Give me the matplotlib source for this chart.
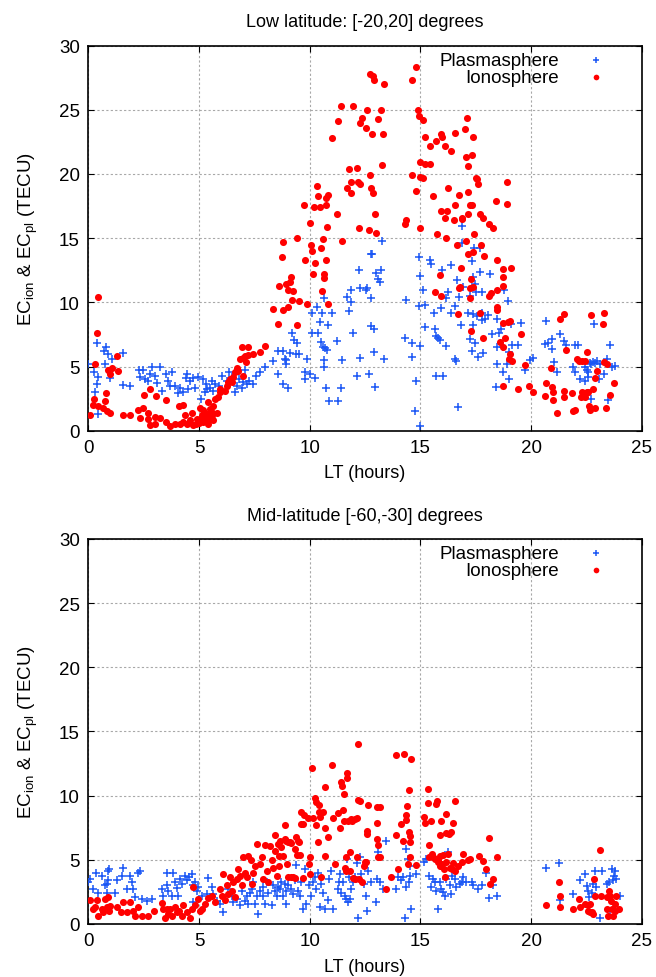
import matplotlib
matplotlib.use("Agg")
import matplotlib.pyplot as plt

plt.rcParams['font.family'] = ['Liberation Sans', 'DejaVu Sans']
plt.rcParams['mathtext.fontset'] = 'custom'
plt.rcParams['mathtext.rm'] = 'Liberation Sans'
plt.rcParams['mathtext.it'] = 'Liberation Sans:italic'

# ---------------- Top panel: Low latitude ----------------
top_title = "Low latitude: [-20,20] degrees"
bot_title = "Mid-latitude [-60,-30] degrees"
xticks = [0, 5, 10, 15, 20, 25]
yticks = [0, 5, 10, 15, 20, 25, 30]

top_ion_lt = [0.42,0.38,0.3,0.8,0.26,0.2,0.45,0.08,0.75,0.68,0.98,0.83,1.28,1.05,0.9,1.35,0.98,1.55,1.88,2.26,2.34,2.5,2.48,2.7,2.79,2.7,2.79,3.0,3.06,3.24,3.0,3.5,3.5,3.69,3.9,4.14,4.1,4.29,4.37,4.6,4.67,4.75,4.9,5.05,5.12,5.2,5.27,5.35,5.42,5.5,5.57,5.65,5.72,5.8,5.87,5.95,5.65,5.42,5.95,6.17,6.25,6.33,6.4,6.48,6.55,6.63,6.7,6.78,6.85,6.93,7.0,7.0,7.12,7.08,7.23,7.23,7.46,7.76,7.98,8.36,8.58,8.61,
    5.0,5.1,5.3,5.45,5.55,5.2,5.6,4.85,4.45,4.3,
    8.8,8.77,8.95,9.1,9.17,9.02,9.25,9.22,9.02,8.8,9.43,9.43,9.5,9.74,9.77,9.9,10.0,10.08,10.1,10.2,10.23,10.15,10.35,10.38,10.45,10.53,10.6,10.63,10.65,10.72,10.72,10.75,10.83,10.8,10.56,10.83,11.0,11.24,11.28,11.43,11.48,11.69,11.78,11.85,11.88,11.96,12.14,12.18,12.26,12.23,12.26,12.38,12.53,12.6,12.68,12.74,12.75,12.86,12.74,12.86,12.89,12.8,12.95,13.0,13.08,13.23,13.28,13.31,13.34,14.29,14.37,14.64,14.64,14.79,14.82,14.89,14.92,14.97,15.0,15.0,15.12,15.12,15.2,15.23,15.42,15.42,15.57,15.72,15.75,15.87,15.95,15.95,15.99,16.1,16.1,15.95,15.65,16.22,16.25,16.17,16.39,16.55,16.52,16.55,16.67,16.7,16.75,16.73,16.78,16.83,16.86,16.89,17.0,17.08,17.1,
    17.39,17.32,17.17,17.52,17.55,17.62,18.9,17.17,17.24,17.32,18.42,18.93,17.17,17.7,17.82,18.12,18.3,17.42,17.06,17.73,17.17,17.39,17.88,18.48,18.72,19.08,18.72,17.27,18.75,17.24,17.39,18.12,18.18,18.48,17.24,18.45,18.48,17.7,18.72,18.95,19.05,19.53,17.29,17.85,18.83,18.6,18.75,19.05,19.02,19.12,19.73,18.75,19.43,19.92,20.08,20.68,20.64,20.93,20.98,20.98,21.19,20.89,21.33,21.49,21.58,21.5,21.5,21.87,21.9,21.99,22.06,22.18,22.29,22.44,22.53,22.26,22.29,22.44,22.53,22.59,22.62,22.65,22.71,22.8,22.89,22.89,22.99,23.3,23.27,23.3,23.42,23.37,23.57,23.77]
top_ion_ec = [10.4,7.6,5.2,2.9,2.5,2.0,1.95,1.2,2.3,1.8,1.4,1.5,5.8,4.9,4.7,4.65,4.4,1.2,1.2,1.6,1.0,2.8,1.8,1.4,3.25,0.9,0.47,1.1,2.7,1.0,0.5,2.4,0.65,0.4,0.5,0.5,1.95,2.0,1.2,0.8,1.4,0.47,0.9,1.8,1.2,0.65,1.4,0.9,2.2,1.7,1.2,1.95,2.5,1.4,2.6,3.0,0.8,0.5,3.25,3.1,3.5,3.8,4.05,3.8,4.2,4.55,4.9,4.65,5.6,6.5,4.3,5.7,5.35,5.85,6.5,5.9,5.97,6.1,6.6,9.5,8.3,11.25,
    0.6,0.9,1.1,1.3,1.5,1.6,0.9,0.55,0.5,0.7,
    14.7,13.5,11.4,11.6,12.0,11.0,10.9,10.2,9.6,9.4,15.0,8.2,10.1,17.6,13.3,9.9,16.2,14.5,14.0,17.4,13.1,12.2,19.1,18.3,17.4,14.2,14.9,12.2,11.9,13.3,17.6,18.1,18.4,15.9,10.9,9.9,22.8,16.9,24.1,25.3,14.8,18.9,20.4,19.4,18.5,25.3,20.5,19.4,19.2,15.8,24.0,24.4,23.6,25.0,15.6,19.9,18.9,18.5,27.8,27.6,27.3,23.1,16.9,15.4,24.3,25.0,20.7,23.1,27.0,16.1,16.4,19.9,27.3,28.3,18.7,25.0,24.5,20.9,19.8,15.8,19.7,24.2,22.9,20.8,20.8,22.2,18.3,22.6,15.3,12.1,23.1,17.1,22.9,22.2,16.6,10.5,10.8,17.1,18.9,15.0,21.8,23.2,16.4,17.6,14.5,9.1,11.1,18.4,11.2,12.7,16.6,16.5,23.5,21.3,24.4,
    22.9,21.5,20.6,19.7,19.6,19.2,19.4,18.6,17.6,17.6,17.9,17.7,16.9,16.9,16.6,16.1,15.8,15.3,14.8,14.5,13.8,13.9,13.6,13.3,12.6,12.7,12.0,11.8,11.3,11.1,11.2,10.5,10.7,11.0,10.3,9.6,9.4,9.2,8.4,8.5,8.55,7.5,7.8,7.25,7.2,6.9,6.5,5.97,5.6,5.45,5.1,3.5,3.25,3.5,3.0,3.7,2.7,3.4,3.05,2.4,1.35,4.9,8.7,9.1,6.3,3.1,2.6,2.95,1.55,1.6,5.6,5.45,5.45,5.45,6.15,2.6,3.0,2.6,3.05,3.0,1.95,1.6,9.0,3.25,1.8,4.1,4.65,9.2,8.3,5.35,5.2,1.8,2.75,3.75]

top_pl_lt = [0.0,0.38,0.71,0.8,0.9,1.05,1.55,0.75,0.26,0.45,0.98,0.3,0.38,0.45,1.58,1.88,2.3,2.48,2.34,2.56,2.79,2.86,2.71,3.01,3.09,3.24,3.31,3.5,3.61,3.69,3.77,3.92,4.14,4.07,4.29,4.41,4.44,4.52,4.6,4.71,4.82,4.97,5.08,5.2,5.27,5.32,5.38,5.5,5.57,5.65,5.72,5.92,6.02,6.25,6.37,6.48,6.63,6.7,6.82,6.93,7.0,7.08,7.15,7.27,7.45,7.57,7.76,7.98,8.36,8.58,8.55,
    8.8,8.87,8.95,8.95,8.8,9.02,9.13,9.22,9.28,9.43,9.37,9.5,9.77,9.77,9.88,10.0,10.1,10.12,10.23,10.35,10.38,10.45,10.56,10.53,10.6,10.68,10.78,10.63,10.63,10.63,10.75,10.83,11.02,10.86,11.28,11.24,11.43,11.48,11.69,11.76,11.85,11.85,11.96,12.14,12.23,12.26,12.26,12.53,12.6,12.75,12.68,12.77,12.83,12.75,12.9,12.89,12.94,13.01,13.09,13.19,13.24,13.28,13.34,14.29,14.34,14.64,14.64,14.82,14.77,14.94,14.94,14.97,14.97,15.0,15.12,15.2,15.2,15.42,15.5,15.62,15.65,15.72,15.8,15.87,15.69,15.95,15.99,16.02,16.14,16.17,16.25,16.39,16.39,16.55,16.58,16.63,16.7,16.67,16.75,16.83,16.89,16.9,16.93,
    17.42,17.7,17.32,17.7,18.15,17.39,17.45,17.52,17.79,17.24,18.78,18.95,17.17,17.39,17.55,17.77,18.06,17.77,17.93,17.39,17.24,17.45,18.24,18.54,18.48,18.66,19.1,19.55,17.32,17.62,17.85,18.45,18.72,19.12,19.42,18.99,18.48,18.9,19.72,19.95,20.08,18.75,19.0,18.42,20.68,20.63,20.93,20.93,20.78,21.33,21.49,21.58,22.0,22.1,21.04,21.19,21.91,22.0,22.21,22.44,22.44,22.53,22.59,22.65,22.71,22.8,22.89,22.99,22.84,22.59,23.09,23.1,23.3,23.42,23.57,23.64,23.8,23.5,22.71]
top_pl_ec = [5.2,6.8,6.2,6.5,6.0,5.6,6.05,5.2,4.55,4.15,4.1,3.05,3.6,1.3,3.55,3.45,4.75,4.7,4.15,4.0,4.4,4.95,3.9,4.3,3.75,4.95,3.1,4.4,3.9,3.5,4.55,3.5,3.35,2.95,3.0,4.1,4.4,3.25,3.9,4.1,3.35,4.15,2.45,4.0,3.0,3.65,3.25,3.35,3.9,3.1,3.65,3.5,4.3,3.9,4.6,4.15,3.0,3.5,4.0,3.35,3.8,4.75,3.65,3.9,3.65,4.3,4.55,4.95,5.45,6.2,4.4,
    6.2,5.6,5.5,5.2,3.6,3.3,6.05,7.65,7.1,6.8,5.95,5.95,4.55,4.0,5.6,4.4,9.2,7.6,4.1,9.6,7.6,8.5,9.2,6.9,6.5,6.45,6.3,5.5,5.0,10.3,3.3,8.2,9.2,2.35,2.35,7.0,3.3,5.5,10.45,9.3,11.0,10.0,7.6,4.25,12.55,11.15,5.7,11.0,11.15,10.35,4.45,13.75,13.8,8.15,7.95,6.1,3.4,12.3,11.85,11.6,12.5,14.75,5.6,7.2,10.15,6.8,5.75,3.9,1.55,13.5,9.75,12.05,0.4,6.6,11.0,9.8,8.1,13.3,12.95,9.2,7.9,7.4,7.2,7.05,4.25,9.55,12.5,4.3,10.35,6.6,10.8,12.9,9.15,9.7,5.6,5.45,1.85,11.75,10.45,8.25,14.6,15.95,11.2,
    14.25,14.2,13.2,12.35,12.2,12.0,11.4,10.8,10.8,10.5,11.0,10.1,9.2,9.1,8.9,9.2,9.0,8.65,8.7,8.2,7.15,6.8,7.55,7.6,8.7,7.9,8.3,8.4,6.2,5.75,6.05,6.5,6.55,6.7,6.7,6.1,5.2,5.2,4.75,5.5,5.7,4.6,4.0,3.4,8.55,6.75,7.15,6.4,6.8,7.55,6.95,6.7,6.7,6.7,5.35,4.6,5.0,4.6,4.0,3.9,5.0,4.75,4.55,5.3,5.2,5.35,5.3,5.45,8.3,4.15,4.0,5.2,4.4,5.6,6.7,5.0,5.05,2.4,2.45]

# ---------------- Bottom panel: Mid-latitude ----------------
bot_ion_lt = [0.08,0.23,0.38,0.3,0.45,0.6,0.68,0.75,0.9,0.83,0.98,0.95,1.28,1.46,1.58,1.88,1.73,2.03,2.11,2.26,2.41,2.71,2.97,3.31,3.36,3.46,3.54,3.61,3.69,3.77,3.92,3.99,4.11,4.22,4.29,4.44,4.59,4.67,4.74,4.82,4.97,5.05,5.12,5.27,5.42,5.57,5.72,5.95,6.02,6.1,6.17,6.25,6.33,6.4,6.48,6.55,6.63,6.7,6.78,6.85,6.93,7.0,7.08,7.15,7.23,7.33,7.38,7.45,7.53,7.61,7.76,7.83,7.88,7.98,8.06,8.13,8.2,8.28,8.36,8.43,8.43,8.51,8.58,8.63,8.63,
    8.64,8.72,8.87,8.87,8.8,8.95,9.02,9.1,9.17,8.98,9.02,9.17,9.25,9.32,9.32,9.4,9.47,9.52,9.43,9.55,9.62,9.62,9.7,9.74,9.7,9.92,10.0,9.97,10.03,10.12,10.15,10.23,10.27,10.3,10.38,10.42,10.42,10.45,10.6,10.53,10.68,10.71,10.83,10.68,11.01,11.05,11.13,11.28,11.36,11.43,11.48,11.54,11.51,11.54,11.58,11.63,11.66,11.69,11.7,11.73,11.81,11.81,11.88,11.93,11.96,12.03,12.06,12.14,12.14,12.18,12.18,12.23,12.26,12.38,12.44,12.48,12.56,12.59,12.59,12.64,13.04,13.16,13.04,13.04,13.08,13.08,13.16,13.46,13.69,13.92,13.92,13.99,14.14,14.22,14.26,14.34,14.37,14.41,14.49,14.49,14.52,14.55,14.56,14.52,14.44,14.82,15.15,15.2,15.35,15.35,15.39,15.39,15.5,15.54,15.57,15.65,15.72,15.77,15.8,15.8,15.87,15.87,15.9,15.95,16.0,16.02,16.05,16.1,16.14,16.17,16.17,16.25,16.3,16.33,16.39,16.45,16.48,16.48,16.55,16.55,16.7,16.93,16.9,
    17.17,17.24,17.67,17.82,18.12,17.97,18.3,18.15,18.45,20.68,21.25,21.3,21.33,21.91,22.18,22.21,22.44,22.56,22.59,22.65,22.74,22.86,22.89,22.8,23.12,23.15,23.42,23.54,23.57,23.42,23.48,23.6,23.64,23.69,23.8,23.84,23.8,23.99,22.65]
bot_ion_ec = [1.9,1.2,1.9,1.3,0.65,1.2,0.9,1.95,2.1,1.3,1.4,1.05,1.3,0.9,1.7,1.75,0.95,1.05,0.6,1.3,0.6,0.65,1.05,1.65,1.2,0.45,1.2,0.8,1.2,0.65,1.3,0.9,1.05,0.6,1.45,0.95,0.5,1.2,2.85,1.45,1.95,1.05,1.2,1.55,2.0,2.2,1.7,2.75,2.2,3.9,1.9,3.0,2.35,3.65,2.6,3.25,2.1,3.5,4.3,3.75,3.0,5.2,4.0,3.65,5.3,4.95,3.1,4.0,4.55,6.25,4.7,5.2,3.5,6.15,4.15,3.25,6.1,4.95,4.4,6.9,5.7,3.75,6.25,4.55,5.3,
    6.5,6.0,7.7,6.6,5.3,6.5,6.35,6.4,6.3,4.65,3.65,3.65,3.65,3.55,5.85,6.75,6.5,6.35,5.4,5.4,7.8,8.75,7.8,8.5,3.55,8.25,5.2,4.7,3.9,12.15,8.25,9.8,7.7,9.5,6.4,9.25,8.7,8.3,8.75,3.65,7.45,10.7,6.75,5.3,12.4,8.25,4.65,8.65,7.5,11.1,10.75,10.1,8.9,8.05,4.4,5.2,4.15,11.4,11.8,8.0,5.6,4.15,8.2,8.0,3.55,3.5,8.15,8.25,5.2,14.0,9.65,3.5,9.55,3.3,4.5,4.8,4.8,7.25,7.05,9.25,9.1,9.1,7.9,6.6,6.15,5.2,5.2,2.75,3.65,6.9,13.2,4.25,7.8,6.45,13.25,8.1,8.5,9.2,10.45,7.2,6.85,6.4,12.85,5.2,4.65,4.6,8.3,7.9,10.5,9.45,6.15,5.2,8.05,5.45,5.2,5.05,9.35,9.6,4.95,4.8,5.3,4.5,6.9,8.05,4.65,5.4,4.3,3.7,8.55,7.1,4.8,5.45,7.0,4.4,7.15,4.25,7.9,4.75,9.55,4.15,4.55,5.45,4.8,
    4.95,5.05,5.3,4.9,6.7,4.3,3.5,3.1,5.2,1.45,3.25,2.2,1.35,1.2,1.95,1.3,1.55,1.5,1.05,0.9,0.95,3.5,2.15,0.8,5.75,2.15,2.1,2.6,2.2,1.15,0.65,1.8,1.15,0.65,1.55,2.15,1.05,1.15,1.55]

bot_pl_lt = [0.0,0.08,0.23,0.35,0.45,0.6,0.75,0.83,0.9,0.95,0.9,0.83,1.2,1.28,1.51,1.58,1.88,1.96,1.73,2.03,2.11,2.26,2.34,2.41,2.63,2.86,3.31,3.39,3.54,3.57,3.81,3.61,3.77,3.92,3.99,4.07,4.14,4.22,4.37,4.44,4.56,4.67,4.71,4.82,4.89,4.97,4.74,5.12,5.35,5.42,5.57,5.65,5.8,5.95,6.1,6.33,6.48,6.55,6.7,6.85,6.93,7.08,7.15,7.23,7.3,7.38,7.45,7.53,7.61,7.68,7.76,7.88,7.91,7.98,8.06,8.13,8.28,8.33,8.43,8.51,8.58,
    8.64,8.72,8.8,8.87,8.92,8.95,9.02,9.17,9.25,9.32,9.4,9.47,9.55,9.62,9.7,9.77,9.85,9.97,10.08,10.15,10.23,10.3,10.38,10.45,10.53,10.6,10.68,10.83,10.87,10.98,11.05,11.28,11.33,11.36,11.43,11.51,11.58,11.63,11.69,11.73,11.78,11.81,11.88,11.96,12.03,12.14,12.18,12.26,12.33,12.44,12.56,12.59,12.64,12.79,13.01,13.04,13.08,13.16,13.31,13.46,13.92,13.99,14.11,14.22,14.29,14.34,14.37,14.44,14.49,14.52,14.59,14.52,14.82,15.15,15.27,15.39,15.5,15.57,15.65,15.72,15.8,15.87,15.95,16.02,16.1,16.14,16.25,16.33,16.39,16.45,16.55,16.63,16.78,16.86,16.93,17.08,
    17.32,17.39,17.62,17.77,17.97,18.12,18.3,18.48,20.68,21.28,21.31,21.91,22.21,22.44,22.53,22.59,22.62,22.74,22.8,22.89,22.94,23.12,23.2,23.42,23.54,23.64,23.72,23.77,23.8,23.84,24.02,23.57]
bot_pl_ec = [3.25,3.5,2.75,4.0,2.45,3.75,3.0,3.1,4.15,4.3,3.4,2.45,2.45,3.4,3.75,4.4,3.75,3.3,2.75,2.75,2.1,4.0,4.15,1.95,1.8,1.95,2.7,2.2,3.0,4.0,4.0,2.6,2.2,3.25,2.8,2.2,3.5,3.1,3.75,3.4,3.65,3.9,3.05,3.3,2.6,2.85,1.7,2.2,2.35,3.55,2.85,2.35,1.8,1.55,0.9,2.75,2.2,1.7,1.95,1.45,2.6,1.8,2.2,1.55,2.45,2.75,3.25,1.55,2.2,0.8,2.6,2.85,2.2,1.55,3.25,2.45,1.45,3.0,2.6,2.2,2.85,
    2.75,3.25,2.2,3.1,2.6,1.55,3.0,2.75,2.35,3.4,4.6,2.6,2.2,3.25,1.15,4.3,1.55,3.0,2.2,3.25,3.65,2.75,4.0,1.3,3.1,2.45,1.15,1.9,3.5,4.15,1.2,2.75,3.25,3.9,2.45,3.25,2.2,1.95,5.05,1.7,3.65,1.95,2.75,3.25,3.65,4.75,0.5,5.2,3.9,3.1,2.2,1.05,4.15,3.25,1.7,3.5,5.6,3.25,2.75,6.5,2.75,3.65,3.4,3.65,0.5,2.85,5.85,5.05,3.25,3.75,1.15,4.5,3.9,4.85,5.05,3.75,2.85,3.5,3.25,2.6,1.15,3.25,2.75,2.5,2.2,3.5,5.6,3.0,2.35,3.75,3.5,2.85,3.1,3.25,3.65,3.25,
    3.25,3.0,2.75,3.05,4.0,2.0,3.05,2.15,4.4,4.75,1.9,2.35,3.4,3.9,2.95,2.6,2.1,2.45,3.1,4.15,2.85,0.45,4.1,3.1,3.25,4.25,3.4,3.75,4.15,3.5,2.2,1.05]

PL_COLOR = '#1a56f5'
ION_COLOR = '#ff0000'

fig = plt.figure(figsize=(6.56, 9.78), dpi=100)
ax1 = fig.add_axes([0.1346, 0.5586, 0.8436, 0.3937])
ax2 = fig.add_axes([0.1346, 0.0542, 0.8436, 0.3937])

panels = [
    (ax1, top_title, top_pl_lt, top_pl_ec, top_ion_lt, top_ion_ec),
    (ax2, bot_title, bot_pl_lt, bot_pl_ec, bot_ion_lt, bot_ion_ec),
]

for ax, title, plx, ply, iox, ioy in panels:
    ax.scatter(plx, ply, marker='+', s=28, linewidths=1.1, color=PL_COLOR,
               label='Plasmasphere', zorder=3)
    ax.scatter(iox, ioy, marker='o', s=26, linewidths=0, color=ION_COLOR,
               label='Ionosphere', zorder=4)
    ax.set_xlim(0, 25)
    ax.set_ylim(0, 30)
    ax.set_xticks(xticks)
    ax.set_yticks(yticks)
    ax.tick_params(direction='in', length=4, width=0.8, top=True, right=True,
                   labelsize=13.5, pad=6)
    ax.grid(True, color='#a8a8a8', linestyle=(0, (2, 2)), linewidth=0.8)
    ax.set_axisbelow(True)
    for sp in ax.spines.values():
        sp.set_linewidth(1.2)
    ax.set_title(title, fontsize=13, pad=14)
    ax.set_xlabel('LT (hours)', fontsize=13, labelpad=6)
    ax.set_ylabel(r'EC$_{\mathrm{ion}}$ & EC$_{\mathrm{pl}}$ (TECU)', fontsize=13.5, labelpad=14)
    ax.legend(loc='upper right', bbox_to_anchor=(0.934, 0.985), frameon=False,
              markerfirst=False, fontsize=13.5, handlelength=1.0, handletextpad=1.45,
              borderpad=0, borderaxespad=0, labelspacing=0.02, scatterpoints=1,
              markerscale=0.8)

fig.savefig('out.png', dpi=100)
